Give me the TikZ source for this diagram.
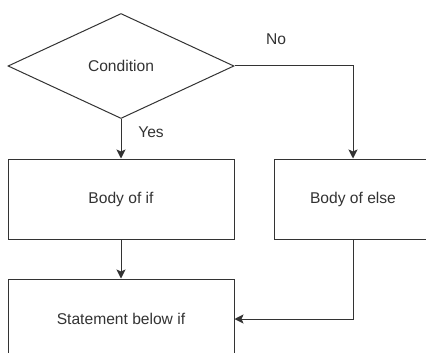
\documentclass[tikz,border=0pt]{standalone}
\usepackage{fontspec}
\setmainfont{Liberation Sans}
\usetikzlibrary{shapes.geometric,arrows.meta}
\definecolor{linegray}{HTML}{333333}
\definecolor{textgray}{HTML}{333333}
\begin{document}
\begin{tikzpicture}[x=1pt,y=-1pt,
  every node/.style={font=\fontsize{15.6}{18}\selectfont, text=textgray},
  decision/.style={draw=linegray, line width=1pt, shape=diamond, minimum width=226pt, minimum height=105pt, inner sep=0pt},
  procbox/.style={draw=linegray, line width=1pt, rectangle, inner sep=0pt},
  arr/.style={draw=linegray, line width=1pt, -{Stealth[length=9pt,width=9pt,inset=2pt]}},
  lbl/.style={inner sep=0pt}]
\fill[white] (0,0) rectangle (426,353);
\useasboundingbox (0,0) rectangle (426,353);
\clip (0,0) rectangle (426,353);
\node[decision] (cond) at (121,66) {Condition};
\node[procbox, minimum width=226pt, minimum height=80pt] (ifbox) at (121,199) {Body of if};
\node[procbox, minimum width=158pt, minimum height=80pt] (elsebox) at (353,199) {Body of else};
\node[procbox, minimum width=226pt, minimum height=80pt] (stmt) at (121,319) {Statement below if};
\node[lbl] (yeslab) at (151,132) {Yes};
\node[lbl] (nolab) at (276,39) {No};
\draw[arr] (cond.south) -- (ifbox.north);
\draw[arr] (ifbox.south) -- (stmt.north);
\draw[arr] (cond.east) -| (elsebox.north);
\draw[arr] (elsebox.south) |- (stmt.east);
\end{tikzpicture}
\end{document}
